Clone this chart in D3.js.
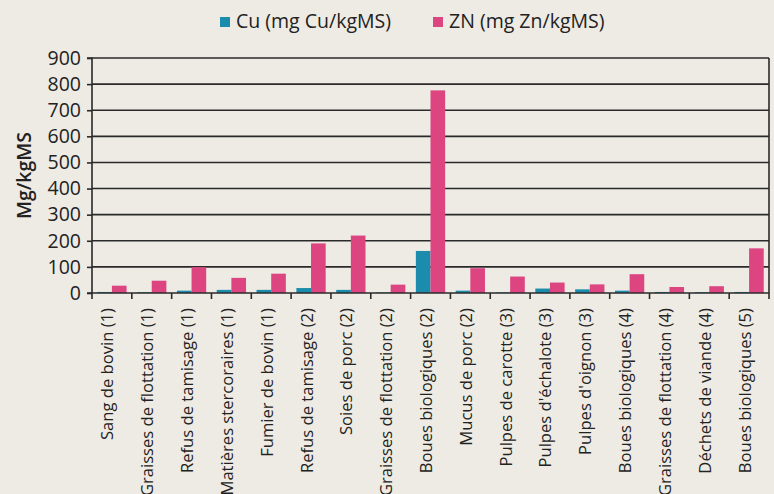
<!DOCTYPE html>
<html><head><meta charset="utf-8">
<script src="https://cdn.jsdelivr.net/npm/d3@7"></script>
<style>
html,body{margin:0;padding:0;background:#eeebe4;}
svg{display:block;font-family:"Open Sans", sans-serif;font-weight:500;}
</style></head>
<body>
<svg id="chart" width="774" height="494"></svg>
<script>
const categories = ["Sang de bovin (1)","Graisses de flottation (1)","Refus de tamisage (1)","Matières stercoraires (1)","Fumier de bovin (1)","Refus de tamisage (2)","Soies de porc (2)","Graisses de flottation (2)","Boues biologiques (2)","Mucus de porc (2)","Pulpes de carotte (3)","Pulpes d'échalote (3)","Pulpes d'oignon (3)","Boues biologiques (4)","Graisses de flottation (4)","Déchets de viande (4)","Boues biologiques (5)"];
const cuValues = [4,3,9,12,12,19,12,2,161,9,2,17,14,9,4,3,4];
const znValues = [28,47,99,58,74,190,220,32,776,95,63,40,33,72,23,26,171];
const seriesNames = ["Cu (mg Cu/kgMS)","ZN (mg Zn/kgMS)"];
const seriesColors = ["#1b8cab","#dc4580"];
const yTicks = [0,100,200,300,400,500,600,700,800,900];
const yTitle = "Mg/kgMS";

const svg = d3.select("#chart");
const mLeft = 92, mRight = 769, mTop = 58, mBottom = 293;
const ink = "#2a2a2a";

const x = d3.scaleBand().domain(categories).range([mLeft, mRight]).padding(0);
const inner = d3.scaleBand().domain([0,1]).range([0, x.bandwidth()]).paddingInner(0).paddingOuter(0.36);
const y = d3.scaleLinear().domain([0,900]).range([mBottom, mTop]);

// gridlines
svg.append("g").selectAll("line").data(yTicks.filter(d=>d>0)).join("line")
  .attr("x1", mLeft).attr("x2", mRight)
  .attr("y1", d=>y(d)).attr("y2", d=>y(d))
  .attr("stroke",ink).attr("stroke-width",1.6);

// bars
const data = categories.map((c,i)=>({c, vals:[cuValues[i], znValues[i]]}));
const groups = svg.append("g").selectAll("g").data(data).join("g")
  .attr("transform", d=>`translate(${x(d.c)},0)`);
groups.selectAll("rect").data(d=>d.vals.map((v,k)=>({v,k}))).join("rect")
  .attr("x", d=>inner(d.k)).attr("width", inner.bandwidth())
  .attr("y", d=>y(d.v)).attr("height", d=>mBottom - y(d.v))
  .attr("fill", d=>seriesColors[d.k]);

// y axis
const yAxis = d3.axisLeft(y).tickValues(yTicks).tickSize(5).tickPadding(6);
const gy = svg.append("g").attr("transform",`translate(${mLeft},0)`).call(yAxis);
gy.select(".domain").attr("stroke",ink).attr("stroke-width",1.6).attr("d",`M-5,${mTop}H0V${mBottom}H-5`);
gy.selectAll(".tick line").attr("stroke",ink).attr("stroke-width",1.6);
gy.selectAll("text").attr("font-size",19.5).attr("font-family","'Open Sans', sans-serif").attr("font-weight",500).attr("fill","#222");

// right border
svg.append("line").attr("x1",mRight).attr("x2",mRight).attr("y1",mTop).attr("y2",mBottom)
  .attr("stroke",ink).attr("stroke-width",1.6);

// x axis
const bounds = categories.map(c=>x(c)).concat([mRight]);
svg.append("line").attr("x1",mLeft).attr("x2",mRight).attr("y1",mBottom).attr("y2",mBottom)
  .attr("stroke",ink).attr("stroke-width",1.6);
svg.append("g").selectAll("line").data(bounds).join("line")
  .attr("x1",d=>d).attr("x2",d=>d).attr("y1",mBottom).attr("y2",mBottom+6)
  .attr("stroke",ink).attr("stroke-width",1.6);

svg.append("g").selectAll("text").data(categories).join("text")
  .attr("transform", d=>`translate(${x(d)+x.bandwidth()/2+1.5},${mBottom+15}) rotate(-90)`)
  .attr("text-anchor","end")
  .attr("font-size",16.6).attr("fill","#222")
  .text(d=>d);

// y title
svg.append("text").attr("transform",`translate(31,${(mTop+mBottom)/2}) rotate(-90)`)
  .attr("text-anchor","middle").attr("font-size",19.5).attr("font-weight",600).attr("fill","#222").text(yTitle);

// legend
const legendX = [220, 433];
const lg = svg.append("g").selectAll("g").data(seriesNames).join("g")
  .attr("transform",(d,i)=>`translate(${legendX[i]},17)`);
lg.append("rect").attr("width",10).attr("height",10).attr("fill",(d,i)=>seriesColors[i]);
lg.append("text").attr("x",16).attr("y",11).attr("font-size",19.5).attr("fill","#222").text(d=>d);
</script>
</body></html>
